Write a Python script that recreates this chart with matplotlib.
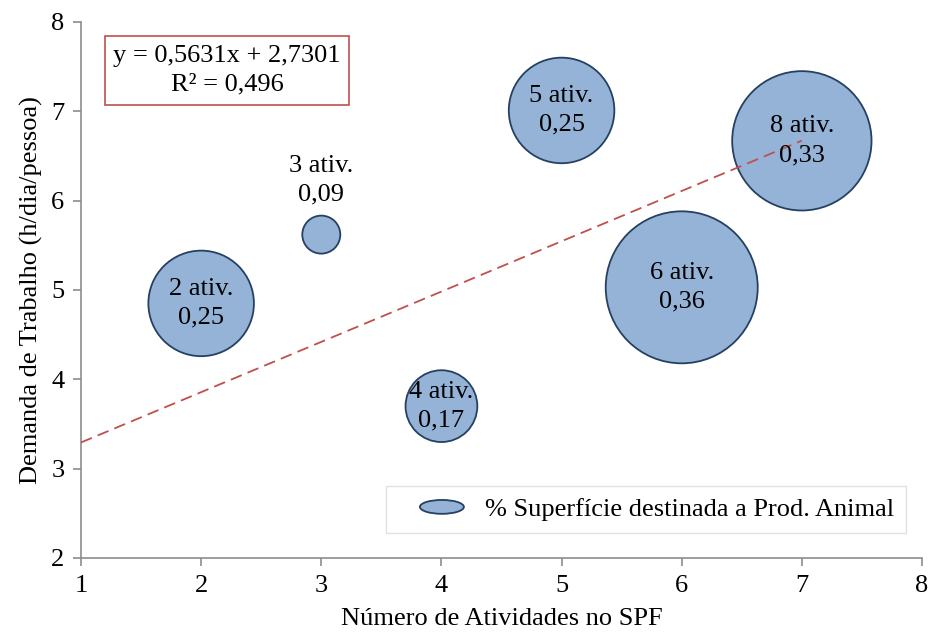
import matplotlib
matplotlib.use("Agg")
import matplotlib.pyplot as plt
from matplotlib.patches import Ellipse
from matplotlib.legend_handler import HandlerPatch

# Data
n_ativ = [2, 3, 4, 5, 6, 7]
demanda = [4.85, 5.62, 3.70, 7.01, 5.03, 6.67]
sup_animal = [0.25, 0.09, 0.17, 0.25, 0.36, 0.33]
labels = ["2 ativ.", "3 ativ.", "4 ativ.", "5 ativ.", "6 ativ.", "8 ativ."]
size_text = ["0,25", "0,09", "0,17", "0,25", "0,36", "0,33"]
slope, intercept = 0.5631, 2.7301
eq_text = "y = 0,5631x + 2,7301\nR² = 0,496"
legend_label = "% Superfície destinada a Prod. Animal"

plt.rcParams['font.family'] = ['Liberation Serif', 'DejaVu Serif']
FS = 19
LS = 1.4

dpi = 100
fig = plt.figure(figsize=(9.33, 6.41), dpi=dpi)
ax = fig.add_axes([81/933, (641-558)/641, (922-81)/933, (558-22)/641])

fill = "#95B3D7"
edge = "#254061"
px_per_unit = 76/0.36  # bubble radius in px per size unit
sizes = [(2*v*px_per_unit*72/dpi)**2 for v in sup_animal]
ax.scatter(n_ativ, demanda, s=sizes, c=fill, edgecolors=edge, linewidths=1.3, zorder=2)

# trendline
xs = [1, max(n_ativ)]
ys = [slope*x + intercept for x in xs]
ax.plot(xs, ys, color="#C0504D", lw=1.3, ls=(0, (6.5, 3.5)), zorder=3)

for x, y, l, s in zip(n_ativ, demanda, labels, size_text):
    if s == "0,09":
        ax.annotate(f"{l}\n{s}", (x, y), xytext=(0, 39), textcoords='offset points',
                    ha='center', va='center', fontsize=FS, linespacing=LS, zorder=4)
    else:
        ax.text(x, y, f"{l}\n{s}", ha='center', va='center', fontsize=FS,
                linespacing=LS, zorder=4)

ax.text((227-81)/841, (558-70.5)/536, eq_text, transform=ax.transAxes, ha='center', va='center',
        fontsize=FS, linespacing=LS,
        bbox=dict(boxstyle='square,pad=0.33', fc='white', ec='#C0504D', lw=1.2))

ax.set_xlim(1, 8)
ax.set_ylim(2, 8)
ax.set_xticks(range(1, 9))
ax.set_yticks(range(2, 9))
for sp in ['top', 'right']:
    ax.spines[sp].set_visible(False)
for sp in ['left', 'bottom']:
    ax.spines[sp].set_color('#8C8C8C')
    ax.spines[sp].set_linewidth(1.2)
ax.tick_params(direction='out', length=6, width=1.2, color='#8C8C8C',
               labelsize=FS, pad=6)
ax.set_xlabel("Número de Atividades no SPF", fontsize=FS, labelpad=8)
ax.set_ylabel("Demanda de Trabalho (h/dia/pessoa)", fontsize=FS, labelpad=6)

class HandlerEllipse(HandlerPatch):
    def create_artists(self, legend, orig_handle, xdescent, ydescent, width, height, fontsize, trans):
        ew = width * 44/66
        cx = width - ew/2 - xdescent
        cy = 0.5*height - ydescent
        p = Ellipse((cx, cy), width=ew, height=height*0.75, fc=fill, ec=edge, lw=1.3)
        p.set_transform(trans)
        return [p]

handle = Ellipse((0, 0), 1, 1, fc=fill, ec=edge)
leg = ax.legend([handle], [legend_label], handler_map={Ellipse: HandlerEllipse()},
                loc='lower right', bbox_to_anchor=((906-81)/841, (558-533)/536), fontsize=FS,
                frameon=True, fancybox=False, edgecolor='#D9D9D9',
                handlelength=2.5, handleheight=0.7, handletextpad=0.8,
                borderpad=0.45, borderaxespad=0)
leg.get_frame().set_linewidth(1.0)

fig.savefig("out.png", dpi=dpi)
